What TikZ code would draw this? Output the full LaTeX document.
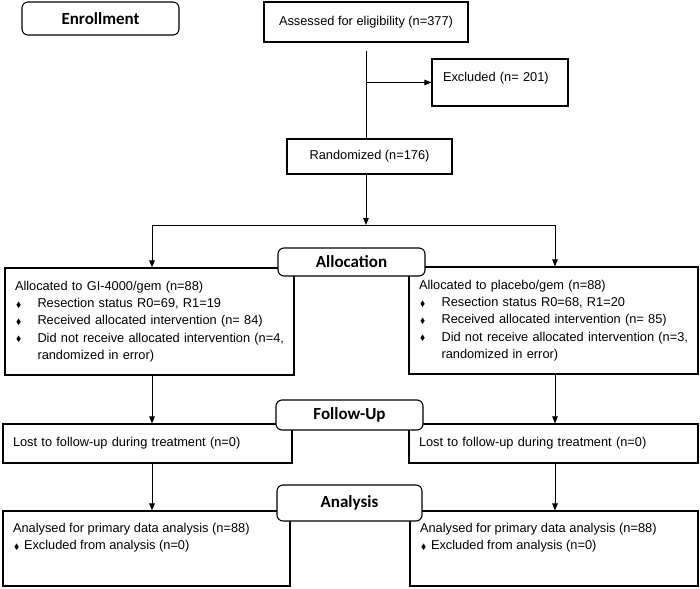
\documentclass[tikz,border=0pt]{standalone}
\usepackage{amssymb}
\usepackage{fontspec}
\setmainfont{Liberation Sans}
\newfontfamily\headfont{Carlito}
\usetikzlibrary{arrows.meta,positioning}
\newcommand{\dmd}[1]{\makebox[#1][l]{\hspace{1.2pt}\raisebox{0.4pt}{\scalebox{0.6}{$\blacklozenge$}}}}

\begin{document}
\begin{tikzpicture}[
	x=1pt,y=-1pt,line width=1pt,
	>={Triangle[length=7pt,width=5.5pt]},
	stage/.style={draw,rounded corners=6pt,fill=white,line width=1.1pt,inner sep=0pt,font=\headfont\bfseries\fontsize{17}{20}\selectfont},
	box/.style={draw,line width=1.1pt,inner sep=0pt,font=\fontsize{12.8}{17.2}\selectfont},
	wide/.style={box,align=left,inner xsep=10pt,text width=269pt}
	]
	\useasboundingbox (0,0) rectangle (700,588);
	% enrollment
	\node[stage,minimum width=157pt,minimum height=33pt] (enroll) at (100.5,18.5) {Enrollment};
	\node[box,minimum width=204pt,minimum height=40pt] (assess) at (366,22) {Assessed for eligibility (n=377)};
	\node[box,minimum height=47pt,text width=114pt,align=left,inner xsep=11pt,text depth=11pt] (excl) at (500,82.5) {Excluded (n= 201)};
	\node[box,minimum width=165pt,minimum height=35pt] (rand) at (369.5,156.5) {Randomized (n=176)};
	% allocation
	\node[wide,minimum height=107pt] (allocL) at (149.5,321.5) {Allocated to GI-4000/gem (n=88)\\
		\dmd{22.5pt}Resection status R0=69, R1=19\\
		\dmd{22.5pt}Received allocated intervention (n= 84)\\
		\mbox{\dmd{22.5pt}Did not receive allocated intervention (n=4,}\\
		\hspace*{22.5pt}randomized in error)};
	\node[wide,minimum height=107pt] (allocR) at (553.5,320.5) {Allocated to placebo/gem (n=88)\\
		\dmd{22.5pt}Resection status R0=68, R1=20\\
		\dmd{22.5pt}Received allocated intervention (n= 85)\\
		\mbox{\dmd{22.5pt}Did not receive allocated intervention (n=3,}\\
		\hspace*{22.5pt}randomized in error)};
	% follow-up
	\node[wide,minimum height=39pt] (lostL) at (147.5,443.5) {Lost to follow-up during treatment (n=0)};
	\node[wide,minimum height=39pt] (lostR) at (553.5,443.5) {Lost to follow-up during treatment (n=0)};
	% analysis
	\node[box,inner xsep=10pt,minimum width=287pt,minimum height=75pt] (anaL) at (146.5,548.5) {\parbox[c][50pt][t]{267pt}{Analysed for primary data analysis (n=88)\\
		\dmd{11pt}Excluded from analysis (n=0)}};
	\node[box,inner xsep=10pt,minimum width=288pt,minimum height=75pt] (anaR) at (554,548.5) {\parbox[c][50pt][t]{268pt}{Analysed for primary data analysis (n=88)\\
		\dmd{11pt}Excluded from analysis (n=0)}};
	% connectors
	\coordinate (colL) at (152,0);
	\coordinate (colR) at (555,0);
	\coordinate (split) at (366,225);
	\draw[shorten <=8pt] (assess.south) -- (assess.south |- rand.north);
	\draw[->] (assess.south |- excl.west) -- (excl.west);
	\draw[->] (rand.south -| split) -- (split);
	\draw[->] (split) -| (allocL.north -| colL);
	\draw[->] (split) -| (allocR.north -| colR);
	\draw[->] (allocL.south -| colL) -- (lostL.north -| colL);
	\draw[->] (allocR.south -| colR) -- (lostR.north -| colR);
	\draw[->] (lostL.south -| colL) -- (anaL.north -| colL);
	\draw[->] (lostR.south -| colR) -- (anaR.north -| colR);
	% stage labels
	\node[stage,minimum width=147pt,minimum height=28pt] (alloc) at (351.5,262) {Allocation};
	\node[stage,minimum width=147pt,minimum height=30pt] (fup) at (349.5,415) {Follow-Up};
	\node[stage,minimum width=145pt,minimum height=36pt] (ana) at (349.5,503) {Analysis};
\end{tikzpicture}
\end{document}
